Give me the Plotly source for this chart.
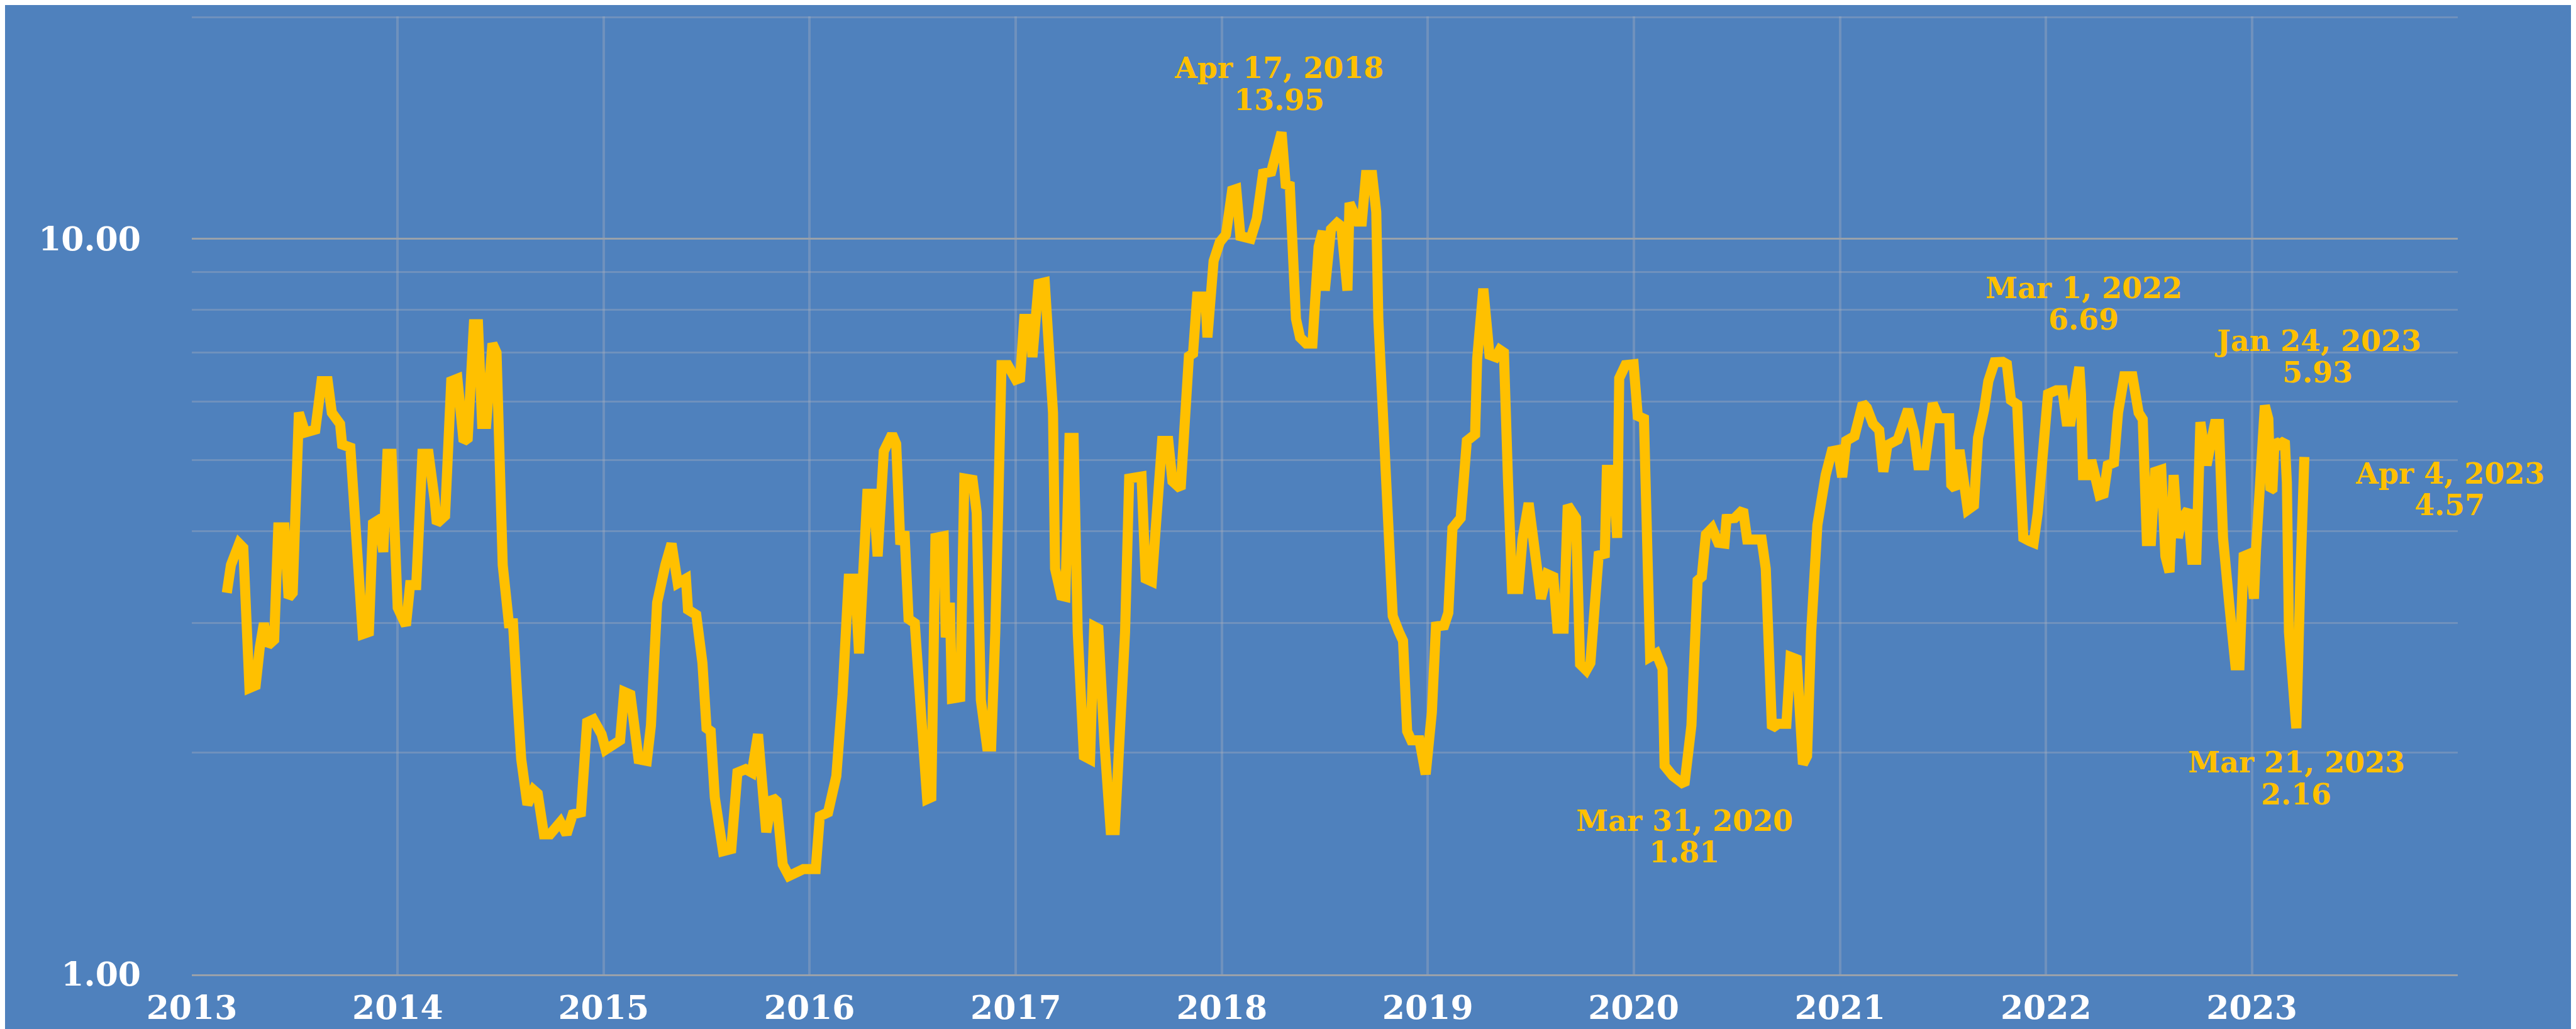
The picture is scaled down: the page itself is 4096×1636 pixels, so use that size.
import plotly.graph_objects as go
import pandas as pd
import numpy as np

# ---- data (decimal year, value) ----
t_year = [
    2013.17, 2013.19, 2013.23, 2013.25, 2013.28, 2013.31, 2013.33, 2013.35, 2013.37, 2013.40,
    2013.42, 2013.45, 2013.47, 2013.49, 2013.52, 2013.55, 2013.60, 2013.63, 2013.66, 2013.68,
    2013.72, 2013.73, 2013.77, 2013.79, 2013.83, 2013.86, 2013.88, 2013.91, 2013.93, 2013.95,
    2013.97, 2014.00, 2014.04, 2014.06, 2014.09, 2014.12, 2014.15, 2014.18, 2014.19, 2014.23,
    2014.26, 2014.29, 2014.32, 2014.34, 2014.37, 2014.39, 2014.41, 2014.43, 2014.46, 2014.48,
    2014.51, 2014.54, 2014.56, 2014.58, 2014.60, 2014.63, 2014.66, 2014.68, 2014.71, 2014.74,
    2014.77, 2014.79, 2014.82, 2014.85, 2014.89, 2014.92, 2014.95, 2014.99, 2015.01, 2015.05,
    2015.08, 2015.10, 2015.13, 2015.17, 2015.21, 2015.23, 2015.26, 2015.30, 2015.33, 2015.36,
    2015.40, 2015.41, 2015.45, 2015.48, 2015.50, 2015.52, 2015.54, 2015.58, 2015.62, 2015.65,
    2015.69, 2015.72, 2015.75, 2015.79, 2015.82, 2015.84, 2015.87, 2015.90, 2015.94, 2015.97,
    2016.03, 2016.05, 2016.09, 2016.13, 2016.16, 2016.19, 2016.22, 2016.24, 2016.28, 2016.31,
    2016.33, 2016.36, 2016.40, 2016.42, 2016.44, 2016.46, 2016.48, 2016.51, 2016.54, 2016.57,
    2016.59, 2016.61, 2016.65, 2016.66, 2016.68, 2016.69, 2016.73, 2016.75, 2016.79, 2016.81,
    2016.83, 2016.86, 2016.88, 2016.90, 2016.93, 2016.96, 2017.00, 2017.02, 2017.04, 2017.07,
    2017.08, 2017.11, 2017.14, 2017.16, 2017.18, 2017.19, 2017.22, 2017.24, 2017.26, 2017.28,
    2017.30, 2017.33, 2017.36, 2017.38, 2017.40, 2017.43, 2017.46, 2017.48, 2017.50, 2017.53,
    2017.55, 2017.61, 2017.63, 2017.66, 2017.68, 2017.71, 2017.74, 2017.76, 2017.80, 2017.82,
    2017.84, 2017.86, 2017.88, 2017.92, 2017.93, 2017.96, 2017.99, 2018.02, 2018.05, 2018.07,
    2018.09, 2018.14, 2018.17, 2018.20, 2018.24, 2018.29, 2018.31, 2018.33, 2018.36, 2018.38,
    2018.41, 2018.44, 2018.47, 2018.49, 2018.50, 2018.53, 2018.56, 2018.58, 2018.61, 2018.62,
    2018.66, 2018.68, 2018.70, 2018.73, 2018.75, 2018.76, 2018.78, 2018.80, 2018.83, 2018.86,
    2018.88, 2018.90, 2018.92, 2018.96, 2018.99, 2019.02, 2019.04, 2019.08, 2019.10, 2019.12,
    2019.16, 2019.19, 2019.23, 2019.24, 2019.27, 2019.30, 2019.33, 2019.35, 2019.37, 2019.39,
    2019.41, 2019.44, 2019.46, 2019.49, 2019.52, 2019.55, 2019.58, 2019.61, 2019.63, 2019.66,
    2019.68, 2019.72, 2019.74, 2019.77, 2019.79, 2019.83, 2019.86, 2019.87, 2019.90, 2019.92,
    2019.93, 2019.96, 2020.00, 2020.02, 2020.05, 2020.06, 2020.08, 2020.11, 2020.14, 2020.15,
    2020.19, 2020.246, 2020.265, 2020.28, 2020.31, 2020.33, 2020.35, 2020.38, 2020.41, 2020.44,
    2020.45, 2020.49, 2020.53, 2020.55, 2020.58, 2020.62, 2020.64, 2020.67, 2020.70, 2020.74,
    2020.76, 2020.79, 2020.82, 2020.84, 2020.86, 2020.89, 2020.93, 2020.96, 2020.99, 2021.01,
    2021.03, 2021.07, 2021.11, 2021.13, 2021.16, 2021.19, 2021.21, 2021.23, 2021.28, 2021.33,
    2021.36, 2021.38, 2021.41, 2021.44, 2021.45, 2021.48, 2021.53, 2021.54, 2021.56, 2021.58,
    2021.60, 2021.62, 2021.65, 2021.67, 2021.70, 2021.72, 2021.75, 2021.79, 2021.81, 2021.83,
    2021.86, 2021.88, 2021.89, 2021.92, 2021.94, 2021.96, 2021.99, 2022.01, 2022.05, 2022.08,
    2022.10, 2022.12, 2022.162, 2022.17, 2022.18, 2022.21, 2022.22, 2022.26, 2022.28, 2022.30,
    2022.33, 2022.35, 2022.38, 2022.42, 2022.45, 2022.47, 2022.49, 2022.51, 2022.53, 2022.56,
    2022.58, 2022.60, 2022.62, 2022.64, 2022.66, 2022.69, 2022.71, 2022.73, 2022.75, 2022.78,
    2022.80, 2022.82, 2022.84, 2022.86, 2022.89, 2022.92, 2022.94, 2022.96, 2022.99, 2023.01,
    2023.02, 2023.063, 2023.08, 2023.09, 2023.10, 2023.11, 2023.13, 2023.16, 2023.17, 2023.18,
    2023.216, 2023.236, 2023.255,
]

ratio = [
    3.30, 3.60, 3.85, 3.80, 2.45, 2.47, 2.78, 3.00, 2.80, 2.85,
    4.05, 4.05, 3.25, 3.30, 5.80, 5.45, 5.50, 6.40, 6.40, 5.80,
    5.60, 5.25, 5.20, 4.30, 2.90, 2.92, 4.10, 4.15, 3.75, 5.10,
    5.10, 3.15, 2.98, 3.38, 3.38, 5.10, 5.10, 4.40, 4.10, 4.20,
    6.40, 6.45, 5.30, 5.35, 7.65, 7.65, 5.60, 5.60, 7.20, 7.00,
    3.60, 3.00, 3.00, 2.40, 1.96, 1.70, 1.78, 1.76, 1.55, 1.55,
    1.60, 1.61, 1.55, 1.65, 1.66, 2.20, 2.22, 2.12, 2.02, 2.05,
    2.08, 2.42, 2.40, 1.96, 1.95, 2.18, 3.20, 3.60, 3.85, 3.40,
    3.45, 3.13, 3.08, 2.65, 2.16, 2.14, 1.74, 1.47, 1.48, 1.88,
    1.90, 1.88, 2.12, 1.56, 1.74, 1.72, 1.41, 1.36, 1.38, 1.39,
    1.39, 1.64, 1.66, 1.86, 2.40, 3.45, 3.45, 2.73, 4.50, 4.50,
    3.70, 5.14, 5.42, 5.26, 3.84, 4.00, 3.04, 3.00, 2.27, 1.73,
    1.74, 3.92, 3.94, 2.87, 3.20, 2.37, 2.38, 4.72, 4.70, 4.24,
    2.36, 2.04, 2.04, 2.92, 6.73, 6.73, 6.43, 6.46, 7.78, 7.78,
    6.90, 8.68, 8.72, 6.53, 5.80, 3.56, 3.27, 3.26, 5.36, 5.36,
    2.92, 1.98, 1.96, 2.97, 2.95, 2.06, 1.57, 1.57, 1.98, 2.92,
    4.72, 4.75, 3.45, 3.42, 4.08, 5.31, 5.31, 4.68, 4.57, 5.92,
    6.92, 6.98, 8.34, 8.34, 7.34, 9.32, 9.89, 10.13, 11.63, 11.68,
    10.08, 10.00, 10.65, 12.26, 12.33, 13.95, 11.85, 11.80, 7.78, 7.34,
    7.20, 7.20, 9.75, 10.24, 8.50, 10.30, 10.50, 10.40, 8.50, 11.18,
    10.55, 10.55, 12.20, 12.20, 10.87, 7.78, 5.92, 4.33, 3.07, 2.92,
    2.84, 2.14, 2.08, 2.08, 1.87, 2.27, 2.97, 2.98, 3.10, 4.04,
    4.17, 5.31, 5.42, 6.86, 8.55, 6.95, 6.90, 7.06, 7.00, 4.68,
    3.34, 3.34, 3.90, 4.37, 3.77, 3.24, 3.50, 3.47, 2.95, 2.95,
    4.34, 4.17, 2.64, 2.59, 2.65, 3.71, 3.73, 4.85, 4.85, 3.92,
    6.46, 6.73, 6.75, 5.74, 5.69, 3.92, 2.70, 2.73, 2.60, 1.92,
    1.86, 1.81, 2.12, 2.18, 3.43, 3.47, 3.96, 4.04, 3.86, 3.85,
    4.16, 4.17, 4.28, 3.90, 3.90, 3.90, 3.56, 2.16, 2.19, 2.19,
    2.70, 2.68, 1.93, 1.98, 2.92, 4.08, 4.77, 5.14, 5.16, 4.74,
    5.31, 5.39, 5.97, 5.89, 5.60, 5.49, 4.82, 5.24, 5.33, 5.86,
    5.45, 4.92, 4.92, 5.89, 5.97, 5.70, 5.70, 4.63, 4.57, 5.16,
    4.55, 4.28, 4.34, 5.36, 5.86, 6.40, 6.79, 6.80, 6.75, 6.03,
    5.95, 4.77, 3.92, 3.88, 3.86, 4.24, 5.47, 6.15, 6.22, 6.22,
    5.64, 5.64, 6.69, 6.15, 4.77, 4.77, 5.00, 4.48, 4.50, 4.92,
    4.96, 5.80, 6.50, 6.50, 5.80, 5.68, 3.88, 3.88, 4.82, 4.85,
    3.70, 3.52, 4.77, 3.92, 4.16, 4.28, 3.66, 3.66, 5.63, 4.92,
    5.26, 5.60, 5.60, 3.92, 3.19, 2.63, 2.63, 3.70, 3.73, 3.24,
    3.77, 5.93, 5.69, 4.55, 4.57, 5.31, 5.24, 5.31, 4.66, 2.92,
    2.16, 3.50, 5.05,
]

year_ticks = [2013, 2014, 2015, 2016, 2017, 2018, 2019, 2020, 2021, 2022, 2023]
y_tick_vals = [1, 10]
y_tick_text = ["1.00", "10.00"]
y_minor_vals = [2, 3, 4, 5, 6, 7, 8, 9, 20]
y_max = 20.05

label_dates = ["2018-04-17", "2020-03-31", "2022-03-01", "2023-01-24", "2023-03-21", "2023-04-04"]
label_values = [13.95, 1.81, 6.69, 5.93, 2.16, 4.57]
label_texts = ["Apr 17, 2018", "Mar 31, 2020", "Mar 1, 2022", "Jan 24, 2023", "Mar 21, 2023", "Apr 4, 2023"]
# (x shift, shift of date line, shift of value line) in px, layout only
label_offsets = [(-4, 102, 51), (0, -57, -107), (7, 126, 76), (84, 103, 53), (0, -54, -105), (231, 24, -26)]


def to_date(t):
    y = int(t)
    start = pd.Timestamp(year=y, month=1, day=1)
    end = pd.Timestamp(year=y + 1, month=1, day=1)
    return start + (end - start) * (t - y)


dates = [to_date(t) for t in t_year]

BG = "#4F81BD"
GOLD = "#FFC000"
FAINT = "rgba(175,180,190,0.33)"
MAJOR = "#9AA1AA"
FONT = "DejaVu Serif"

fig = go.Figure()
fig.add_trace(go.Scatter(
    x=dates, y=ratio, mode="lines",
    line=dict(color=GOLD, width=16),
    hoverinfo="skip", showlegend=False,
))

annotations = []
for d, v, txt, (dx, s1, s2) in zip(label_dates, label_values, label_texts, label_offsets):
    for text, ys in ((txt, s1), (f"{v:.2f}", s2)):
        annotations.append(dict(
            x=d, y=np.log10(v), xref="x", yref="y",
            text=text, showarrow=False,
            xanchor="center", yanchor="middle",
            xshift=dx, yshift=ys,
            font=dict(family=FONT, size=46, color=GOLD, weight="bold"),
        ))

fig.update_layout(
    width=4096, height=1636,
    paper_bgcolor=BG, plot_bgcolor=BG,
    margin=dict(l=297, r=196, t=18, b=91),
    showlegend=False,
    annotations=annotations,
    xaxis=dict(
        type="date",
        range=["2013-01-01", "2024-01-01"],
        tickvals=[f"{y}-01-01" for y in year_ticks],
        ticktext=[str(y) for y in year_ticks],
        showgrid=True, gridcolor=FAINT, gridwidth=4,
        showline=True, linecolor=MAJOR, linewidth=3,
        zeroline=False, ticks="",
        ticklabelstandoff=6,
        tickfont=dict(family=FONT, size=52, color="white", weight="bold"),
    ),
    yaxis=dict(
        type="log",
        range=[0, np.log10(y_max)],
        tickvals=y_tick_vals, ticktext=y_tick_text,
        showgrid=True, gridcolor=MAJOR, gridwidth=3,
        minor=dict(tickvals=y_minor_vals, showgrid=True, gridcolor=FAINT, gridwidth=3, ticks=""),
        showline=False, zeroline=False, ticks="",
        ticklabelstandoff=80,
        tickfont=dict(family=FONT, size=52, color="white", weight="bold"),
    ),
)

fig.write_html("out.html")
